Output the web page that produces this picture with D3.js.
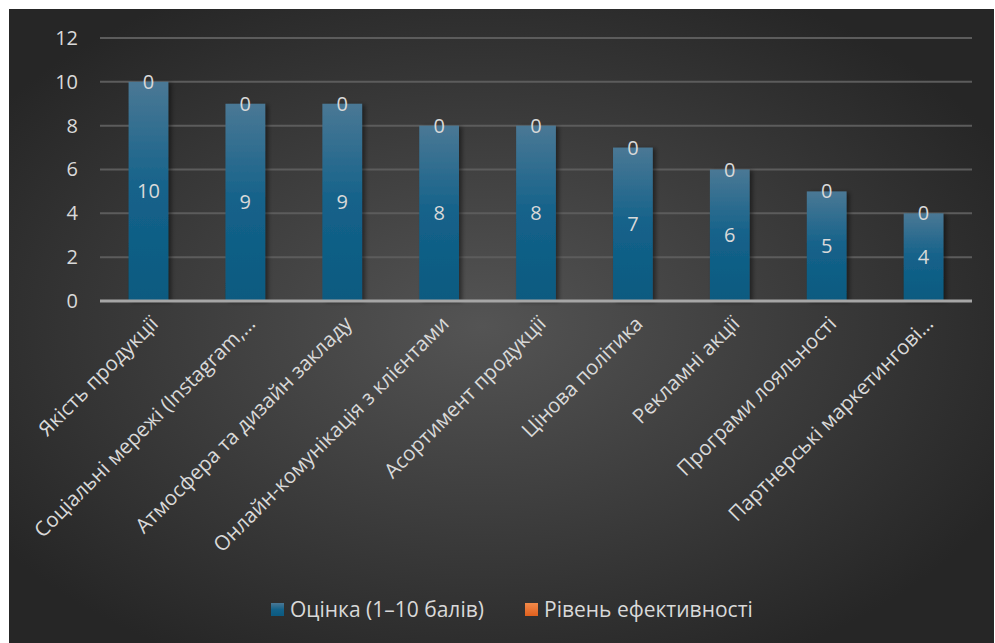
<!DOCTYPE html>
<html>
<head>
<meta charset="utf-8">
<script src="https://cdn.jsdelivr.net/npm/d3@7"></script>
<style>
  html, body { margin: 0; padding: 0; background: #fff; }
  svg { display: block; font-family: "Open Sans", "Noto Sans", sans-serif; }
</style>
</head>
<body>
<svg id="chart" width="995" height="643"></svg>
<script>
const categories = [
  'Якість продукції',
  'Соціальні мережі (Instagram,…',
  'Атмосфера та дизайн закладу',
  'Онлайн-комунікація з клієнтами',
  'Асортимент продукції',
  'Цінова політика',
  'Рекламні акції',
  'Програми лояльності',
  'Партнерські маркетингові…'
]
const scores = [10, 9, 9, 8, 8, 7, 6, 5, 4]
const efficiency = [0, 0, 0, 0, 0, 0, 0, 0, 0]
const yTicks = [0, 2, 4, 6, 8, 10, 12]
const seriesNames = ['Оцінка (1–10 балів)', 'Рівень ефективності']

const svg = d3.select('#chart')
const defs = svg.append('defs')

// Background gradient
const bg = defs.append('radialGradient').attr('id', 'bg')
  .attr('cx', '48%').attr('cy', '50%').attr('r', '60%')
bg.append('stop').attr('offset', '0%').attr('stop-color', '#545454')
bg.append('stop').attr('offset', '100%').attr('stop-color', '#262626')

const barGrad = defs.append('linearGradient').attr('id', 'barGrad')
  .attr('x1', 0).attr('y1', 0).attr('x2', 0).attr('y2', 1)
barGrad.append('stop').attr('offset', '0%').attr('stop-color', '#4a7895')
barGrad.append('stop').attr('offset', '50%').attr('stop-color', '#14628a')
barGrad.append('stop').attr('offset', '100%').attr('stop-color', '#0b5a80')

const orangeGrad = defs.append('linearGradient').attr('id', 'orangeGrad')
  .attr('x1', 0).attr('y1', 0).attr('x2', 0).attr('y2', 1)
orangeGrad.append('stop').attr('offset', '0%').attr('stop-color', '#f28a4a')
orangeGrad.append('stop').attr('offset', '100%').attr('stop-color', '#e0601e')

const shadow = defs.append('filter').attr('id', 'shadow')
  .attr('x', '-20%').attr('y', '-5%').attr('width', '150%').attr('height', '115%')
shadow.append('feDropShadow').attr('dx', 3).attr('dy', 1).attr('stdDeviation', 2)
  .attr('flood-color', '#000').attr('flood-opacity', 0.45)

svg.append('rect').attr('x', 9).attr('y', 9).attr('width', 985).attr('height', 634)
  .attr('fill', 'url(#bg)')

const margin = { left: 100, right: 972, top: 38, bottom: 301 }

const x = d3.scaleBand().domain(categories).range([margin.left, margin.right])
  .paddingInner(0.59).paddingOuter(0.295)
const y = d3.scaleLinear().domain([0, 12]).range([margin.bottom, margin.top])

// Gridlines
svg.append('g').selectAll('line').data(yTicks.filter(d => d > 0)).join('line')
  .attr('x1', margin.left).attr('x2', margin.right)
  .attr('y1', d => y(d)).attr('y2', d => y(d))
  .attr('stroke', '#5c5c5c').attr('stroke-width', 2)

// Y axis labels
const yAxis = svg.append('g').attr('transform', `translate(${margin.left},0)`)
  .call(d3.axisLeft(y).tickValues(yTicks).tickSize(0).tickPadding(22))
yAxis.select('.domain').remove()
yAxis.selectAll('text').attr('fill', '#d9d9d9').attr('font-size', 20)
  .attr('font-family', '"Open Sans", sans-serif')

// Bars
svg.append('g').selectAll('rect').data(scores).join('rect')
  .attr('x', (d, i) => x(categories[i]))
  .attr('width', x.bandwidth())
  .attr('y', d => y(d))
  .attr('height', d => y(0) - y(d))
  .attr('fill', 'url(#barGrad)')
  .attr('filter', 'url(#shadow)')

// stacked efficiency (zero height)
svg.append('g').selectAll('rect').data(efficiency).join('rect')
  .attr('x', (d, i) => x(categories[i]))
  .attr('width', x.bandwidth())
  .attr('y', (d, i) => y(scores[i] + d))
  .attr('height', (d, i) => y(scores[i]) - y(scores[i] + d))
  .attr('fill', 'url(#orangeGrad)')

// X axis baseline
svg.append('line').attr('x1', margin.left).attr('x2', margin.right)
  .attr('y1', y(0)).attr('y2', y(0))
  .attr('stroke', '#a6a6a6').attr('stroke-width', 3)

// Value labels
svg.append('g').selectAll('text').data(scores).join('text')
  .attr('x', (d, i) => x(categories[i]) + x.bandwidth() / 2)
  .attr('y', d => (y(d) + y(0)) / 2)
  .attr('dy', '0.35em')
  .attr('text-anchor', 'middle')
  .attr('fill', '#d9d9d9').attr('font-size', 20)
  .text(d => d)

svg.append('g').selectAll('text').data(efficiency).join('text')
  .attr('x', (d, i) => x(categories[i]) + x.bandwidth() / 2)
  .attr('y', (d, i) => y(scores[i] + d))
  .attr('dy', '0.35em')
  .attr('text-anchor', 'middle')
  .attr('fill', '#d9d9d9').attr('font-size', 20)
  .text(d => d)

// Category labels
svg.append('g').selectAll('text').data(categories).join('text')
  .attr('transform', d => `translate(${x(d) + x.bandwidth() / 2 + 6},${y(0) + 19}) rotate(-45)`)
  .attr('text-anchor', 'end')
  .attr('dy', '0.35em')
  .attr('fill', '#d9d9d9').attr('font-size', 20.5)
  .text(d => d)

// Legend
const legend = svg.append('g')
const legendItems = [
  { name: seriesNames[0], fill: 'url(#barGrad)', x: 271 },
  { name: seriesNames[1], fill: 'url(#orangeGrad)', x: 525 }
]
legend.selectAll('rect').data(legendItems).join('rect')
  .attr('x', d => d.x).attr('y', 603).attr('width', 13).attr('height', 13)
  .attr('fill', d => d.fill)
legend.selectAll('text').data(legendItems).join('text')
  .attr('x', d => d.x + 19).attr('y', 610).attr('dy', '0.35em')
  .attr('fill', '#d9d9d9').attr('font-size', 21)
  .text(d => d.name)
</script>
</body>
</html>
